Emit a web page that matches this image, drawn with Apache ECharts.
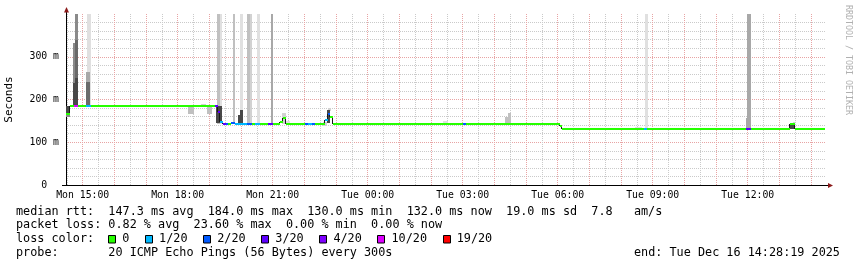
<!DOCTYPE html>
<html><head><meta charset="utf-8">
<script src="https://cdn.jsdelivr.net/npm/echarts@6/dist/echarts.min.js"></script>
<style>html,body{margin:0;padding:0;background:#fff}#c{width:857px;height:267px}</style>
</head><body><div id="c"></div>
<script>
// ---------- data (time in hours since Mon Dec 15 00:00) ----------
const startHour = 14 + 28 / 60 + 19 / 3600;   // Mon 14:28:19
const endHour = startHour + 24;               // Tue 14:28:19
const dataEnd = 38.44;

const hourTicks = [15,16,17,18,19,20,21,22,23,24,25,26,27,28,29,30,31,32,33,34,35,36,37,38];
const halfHourTicks = [14.5,15.5,16.5,17.5,18.5,19.5,20.5,21.5,22.5,23.5,24.5,25.5,26.5,27.5,28.5,29.5,30.5,31.5,32.5,33.5,34.5,35.5,36.5,37.5];
const labelTicks = [15,18,21,24,27,30,33,36];
const tickLabels = ['Mon 15:00','Mon 18:00','Mon 21:00','Tue 00:00','Tue 03:00','Tue 06:00','Tue 09:00','Tue 12:00'];
const yTickLabels = ['0  ','100 m','200 m','300 m'];

// median rtt runs: start hour, median (ms), lost pings of 20
const medStart = [14.47,14.60,14.72,14.84,15.10,15.26,19.18,19.27,19.35,19.42,19.52,19.59,19.67,19.80,20.20,20.35,20.45,20.60,20.85,21.00,21.23,21.34,21.42,22.02,22.12,22.23,22.34,22.65,22.75,22.81,22.91,27.01,27.10,30.07,30.14,32.71,32.82,35.95,36.09,37.34,37.50];
const medValue = [166,184,184,184,184,184,184,171,147,143,143,143,144,143,143,143,143,143,143,143,147,156,143,143,143,143,143,152,166,160,142.5,142.5,142.5,139,131,131,131,131,131,142,131];
const medLoss  = [0,0,10,0,1,0,3,3,1,3,2,0,2,1,2,0,1,0,3,0,0,0,0,2,1,2,0,1,2,0,0,2,0,0,0,1,0,3,0,0,0];

// smoke: start hour, end hour, low ms, high ms, density level (1 light .. 7 dark)
const smokeBands = [
  [14.47,14.60,158,184,5],[14.47,14.60,163,184,7],
  [14.68,14.76,184,333,5],[14.68,14.76,184,238,7],
  [14.76,14.85,184,400,5],[14.76,14.85,184,339,6],[14.76,14.85,184,250,7],
  [15.15,15.26,184,400,1],[15.10,15.24,184,265,4],[15.10,15.24,184,240,6],
  [18.32,18.51,167,184,3],[18.72,18.88,184,190,2],[18.92,19.08,167,184,3],
  [19.23,19.33,143,400,3],[19.33,19.41,143,400,1],[19.21,19.41,146,184,7],
  [19.74,19.82,143,400,3],[19.90,19.97,143,163,7],[19.97,20.05,175,400,1],[19.97,20.05,143,175,7],
  [20.19,20.27,143,400,3],[20.27,20.35,143,400,2],[20.49,20.60,143,400,1],[20.93,21.00,143,400,4],
  [21.30,21.42,143,168,2],[21.42,21.56,143,150,1],
  [22.60,22.70,137,148,2],[22.75,22.85,172,180,2],[22.70,22.81,145,175,7],
  [26.38,26.53,143,150,1],[28.33,28.43,143,160,3],[28.43,28.51,143,168,3],
  [32.45,32.65,131,135,1],[32.75,32.86,131,400,1],
  [35.95,36.00,131,156,4],[35.97,36.09,131,400,4],
  [37.31,37.45,131,143,7],[37.42,37.50,142,148,2]
];

const lossThresholds = [0,1,2,3,4,10,19];
const lossLabels = ['0','1/20','2/20','3/20','4/20','10/20','19/20'];

const statsLine1 = 'median rtt:  147.3 ms avg  184.0 ms max  130.0 ms min  132.0 ms now  19.0 ms sd  7.8   am/s';
const statsLine2 = 'packet loss: 0.82 % avg  23.60 % max  0.00 % min  0.00 % now';
const lossTitle = 'loss color:';
const probeLine = 'probe:       20 ICMP Echo Pings (56 Bytes) every 300s';
const endLine = 'end: Tue Dec 16 14:28:19 2025';

// ---------- styles ----------
const lossColors = ['#26ff00','#00b8ff','#0059ff','#5e00ff','#7e00ff','#dd00ff','#ff0000'];
const smokePalette = ['#e0e0e0','#d2d2d2','#c0c0c0','#a8a8a8','#8a8a8a','#6a6a6a','#484848'];
const MONO = '"DejaVu Sans Mono", monospace';
const GL = 66, GT = 14, GW = 760, GH = 171;
const majorGrid = '#e8a4a4', minorGrid = '#cacaca', arrowColor = '#8b1a1a';

function lossColor(n) {
  let c = lossColors[0];
  for (let i = 0; i < lossThresholds.length; i++) if (n >= lossThresholds[i]) c = lossColors[i];
  return c;
}

const medData = medStart.map((s, i) => [s, i + 1 < medStart.length ? medStart[i + 1] : dataEnd, medValue[i], medLoss[i]]);
const stepData = [];
for (let i = 1; i < medStart.length; i++) {
  if (Math.abs(medValue[i] - medValue[i - 1]) >= 3) stepData.push([medStart[i], medValue[i - 1], medValue[i]]);
}

const chart = echarts.init(document.getElementById('c'), null, {renderer: 'canvas'});

const graphics = [];
// axis extensions and arrows
graphics.push({type:'line', shape:{x1:GL+0.5, y1:GT, x2:GL+0.5, y2:GT-4}, style:{stroke:'#000', lineWidth:1}, silent:true});
graphics.push({type:'polygon', shape:{points:[[GL-2, GT-1.5],[GL+3, GT-1.5],[GL+0.5, GT-7]]}, style:{fill:arrowColor}, silent:true});
graphics.push({type:'line', shape:{x1:GL-4, y1:GT+GH+0.5, x2:GL, y2:GT+GH+0.5}, style:{stroke:'#000', lineWidth:1}, silent:true});
graphics.push({type:'line', shape:{x1:GL+GW, y1:GT+GH+0.5, x2:GL+GW+2, y2:GT+GH+0.5}, style:{stroke:'#000', lineWidth:1}, silent:true});
graphics.push({type:'polygon', shape:{points:[[GL+GW+2, GT+GH-2],[GL+GW+2, GT+GH+3],[GL+GW+7, GT+GH+0.5]]}, style:{fill:arrowColor}, silent:true});
// watermark
graphics.push({type:'text', x:848, y:60, rotation:-Math.PI/2, style:{text:'RRDTOOL / TOBI OETIKER', font:'8.3px ' + MONO, fill:'#b0b0b0', align:'center', verticalAlign:'middle'}, silent:true});
// legend rows
const LX = 16, CW = 7.1, FONT = '11.8px ' + MONO;
const rowY = [211.7, 225.3, 239.3, 252.7];
function txt(x, y, s) { graphics.push({type:'text', x:x, y:y, style:{text:s, font:FONT, fill:'#000', align:'left', verticalAlign:'middle'}, silent:true}); }
txt(LX, rowY[0], statsLine1);
txt(LX, rowY[1], statsLine2);
txt(LX, rowY[2], lossTitle);
txt(LX, rowY[3], probeLine);
txt(634, rowY[3], endLine);
let sx = 108.3;
for (let i = 0; i < lossLabels.length; i++) {
  graphics.push({type:'rect', shape:{x:Math.round(sx)+0.5, y:235.5, width:7, height:7.5}, style:{fill:lossColors[i], stroke:'#000', lineWidth:1}, silent:true});
  txt(sx + 14, rowY[2], lossLabels[i]);
  sx = sx + 14 + lossLabels[i].length * CW + 15.7;
}

const option = {
  animation: false,
  backgroundColor: '#fff',
  grid: {left: GL, top: GT, width: GW, height: GH, containLabel: false, outerBoundsMode: 'none'},
  xAxis: [
    {
      type: 'value', min: startHour, max: endHour, position: 'bottom', z: 3,
      axisLine: {show: true, lineStyle: {color: '#000', width: 1}},
      axisTick: {show: false, customValues: hourTicks},
      axisLabel: {show: true, customValues: labelTicks, margin: 5, color: '#000', fontFamily: MONO, fontSize: 9.8,
        formatter: v => tickLabels[labelTicks.indexOf(Math.round(v))] || ''},
      splitLine: {show: true, lineStyle: {color: majorGrid, width: 1, type: [1, 1]}}
    },
    {
      type: 'value', min: startHour, max: endHour, position: 'bottom',
      axisLine: {show: false}, axisLabel: {show: false},
      axisTick: {show: false, customValues: halfHourTicks},
      splitLine: {show: true, lineStyle: {color: minorGrid, width: 1, type: [1, 1]}}
    }
  ],
  yAxis: {
    type: 'value', min: 0, max: 400, interval: 100,
    name: 'Seconds', nameLocation: 'middle', nameGap: 51, nameRotate: 90,
    nameTextStyle: {fontFamily: MONO, fontSize: 11, color: '#000'},
    axisLine: {show: true, lineStyle: {color: '#000', width: 1}},
    axisTick: {show: false},
    axisLabel: {margin: 7, color: '#000', fontFamily: MONO, fontSize: 9.8, showMaxLabel: false,
      formatter: v => yTickLabels[Math.round(v / 100)] || ''},
    splitLine: {show: true, showMinLine: false, showMaxLine: false, lineStyle: {color: majorGrid, width: 1, type: [1, 1]}},
    minorTick: {show: false, splitNumber: 5},
    minorSplitLine: {show: true, lineStyle: {color: minorGrid, width: 1, type: [1, 1]}}
  },
  graphic: graphics,
  series: [
    {
      type: 'custom', xAxisIndex: 0, yAxisIndex: 0, z: 4, clip: true,
      data: smokeBands, encode: {x: [0, 1], y: [2, 3]},
      renderItem: function (params, api) {
        const a = api.coord([api.value(0), api.value(3)]);
        const b = api.coord([api.value(1), api.value(2)]);
        const x0 = Math.round(a[0]), x1 = Math.round(b[0]);
        const y0 = Math.round(a[1]), y1 = Math.round(b[1]);
        return {type: 'rect', shape: {x: x0, y: y0, width: Math.max(1, x1 - x0), height: y1 - y0},
          style: {fill: smokePalette[api.value(4) - 1]}};
      }
    },
    {
      type: 'custom', xAxisIndex: 0, yAxisIndex: 0, z: 5, clip: true,
      data: stepData, encode: {x: 0, y: [1, 2]},
      renderItem: function (params, api) {
        const a = api.coord([api.value(0), api.value(1)]);
        const b = api.coord([api.value(0), api.value(2)]);
        const x = Math.round(a[0]) - 0.5;
        return {type: 'line', shape: {x1: x, y1: Math.round(a[1]), x2: x, y2: Math.round(b[1])},
          style: {stroke: '#1a1a1a', lineWidth: 1}};
      }
    },
    {
      type: 'custom', xAxisIndex: 0, yAxisIndex: 0, z: 6, clip: true,
      data: medData, encode: {x: [0, 1], y: 2},
      renderItem: function (params, api) {
        const a = api.coord([api.value(0), api.value(2)]);
        const b = api.coord([api.value(1), api.value(2)]);
        const x0 = Math.round(a[0]), x1 = Math.round(b[0]);
        const y = Math.round(a[1]);
        return {type: 'rect', shape: {x: x0, y: y - 1, width: Math.max(1, x1 - x0), height: 2},
          style: {fill: lossColor(api.value(3))}};
      }
    }
  ]
};
chart.setOption(option);
</script>
</body></html>
